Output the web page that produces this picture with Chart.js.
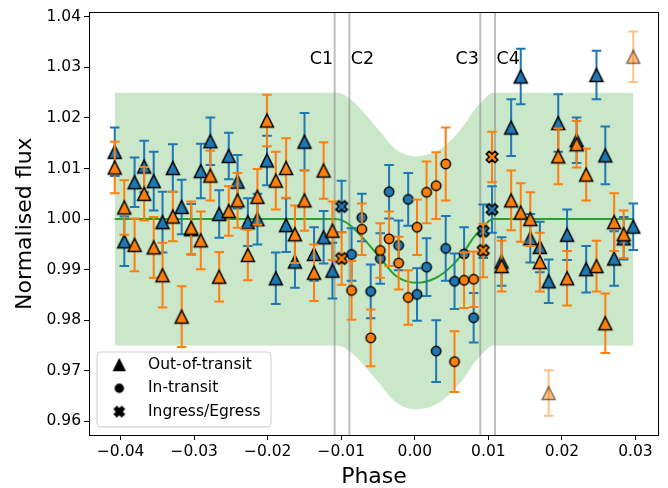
<!DOCTYPE html>
<html>
<head>
<meta charset="utf-8">
<script src="https://cdn.jsdelivr.net/npm/chart.js@4/dist/chart.umd.min.js"></script>
<style>
  html, body { margin: 0; padding: 0; background: #fff; }
</style>
</head>
<body>
<canvas id="chart" width="668" height="488"></canvas>
<script>
// Binned phases, shared by both transits
const phase = [
  -0.0408, -0.0395, -0.0381, -0.0368, -0.0355, -0.0343, -0.0329, -0.0317,
  -0.0304, -0.0291, -0.0278, -0.0266, -0.0253, -0.0241, -0.0227, -0.0214,
  -0.0201, -0.0189, -0.0175, -0.0163, -0.0150, -0.0137, -0.0124, -0.0112,
  -0.00995, -0.0086, -0.0072, -0.0060, -0.0047, -0.0035, -0.0022, -0.0009,
  0.0003, 0.0016, 0.0029, 0.0042, 0.0054, 0.0067, 0.0080, 0.0093,
  0.0105, 0.0118, 0.0131, 0.0144, 0.0157, 0.0170, 0.0182, 0.0195,
  0.0207, 0.0220, 0.0233, 0.0247, 0.0259, 0.0271, 0.0284, 0.0297
];

// Transit 1 (blue)
const blueFlux = [
  1.0133, 0.9956, 1.0073, 1.0104, 1.0075, 0.9994, 1.0101, 1.0024,
  0.9980, 1.0095, 1.0154, 1.0010, 1.0125, 1.0074, 0.9994, 1.0000,
  1.0116, 0.9883, 0.9988, 0.9916, 1.0153, 0.9931, 0.9964, 0.9898,
  1.0025, 0.9930, 1.0003, 0.9857, 0.9922, 1.0054, 0.9948, 1.0039,
  0.9851, 0.9905, 0.9739, 0.9942, 0.9877, 0.9931, 0.9805, 0.9976,
  1.0019, 0.9916, 1.0181, 1.0282, 0.9962, 0.9945, 0.9877, 1.0190,
  0.9969, 1.0156, 0.9901, 1.0285, 1.0126, 0.9922, 0.9962, 0.9985
];
const blueErr = [
  0.0048, 0.0049, 0.0049, 0.0051, 0.0058, 0.0060, 0.0047, 0.0054,
  0.0050, 0.0054, 0.0047, 0.0047, 0.0046, 0.0053, 0.0047, 0.0050,
  0.0049, 0.0051, 0.0053, 0.0052, 0.0057, 0.0053, 0.0052, 0.0055,
  0.0051, 0.0052, 0.0047, 0.0053, 0.0050, 0.0053, 0.0049, 0.0052,
  0.0052, 0.0057, 0.0061, 0.0064, 0.0055, 0.0053, 0.0049, 0.0053,
  0.0046, 0.0048, 0.0056, 0.0055, 0.0048, 0.0050, 0.0043, 0.0057,
  0.0050, 0.0045, 0.0046, 0.0048, 0.0057, 0.0054, 0.0042, 0.0046
];

// Transit 2 (orange)
const orangeFlux = [
  1.0102, 1.0023, 0.9949, 1.0050, 0.9944, 0.9889, 1.0005, 0.9807,
  0.9983, 0.9958, 1.0086, 0.9886, 1.0016, 1.0037, 0.9929, 1.0044,
  1.0195, 1.0076, 1.0101, 0.9970, 1.0037, 0.9894, 1.0096, 0.9977,
  0.9922, 0.9859, 0.9980, 0.9765, 0.9938, 0.9961, 0.9913, 0.9845,
  0.9984, 1.0053, 1.0066, 1.0109, 0.9718, 0.9879, 0.9881, 0.9938,
  1.0123, 0.9907, 1.0037, 1.0013, 1.0000, 0.9915, 0.9656, 1.0124,
  0.9883, 1.0148, 1.0088, 0.9907, 0.9794, 0.9994, 0.9970, 1.0321
];
const orangeErr = [
  0.0051, 0.0054, 0.0052, 0.0053, 0.0060, 0.0064, 0.0049, 0.0060,
  0.0052, 0.0057, 0.0049, 0.0049, 0.0049, 0.0054, 0.0050, 0.0055,
  0.0051, 0.0057, 0.0059, 0.0057, 0.0060, 0.0056, 0.0056, 0.0058,
  0.0052, 0.0058, 0.0051, 0.0056, 0.0054, 0.0054, 0.0052, 0.0054,
  0.0055, 0.0061, 0.0066, 0.0072, 0.0060, 0.0055, 0.0055, 0.0053,
  0.0050, 0.0050, 0.0059, 0.0058, 0.0053, 0.0058, 0.0045, 0.0055,
  0.0054, 0.0046, 0.0051, 0.0050, 0.0059, 0.0057, 0.0047, 0.0050
];
// orange bins rejected as outliers (drawn faded)
const orangeOutliers = [46, 55];

// Contact points
const contacts = [-0.0109, -0.0089, 0.0089, 0.0109];
const contactLabels = ["C1", "C2", "C3", "C4"];
const contactLabelFlux = 1.0316;

// Transit model and its uncertainty band
const modelPhase = [
  -0.0408, -0.0109, -0.0098, -0.0088, -0.0070, -0.0047, -0.0025, 0.0002,
  0.0029, 0.0052, 0.0069, 0.0079, 0.0095, 0.0106, 0.0297
];
const modelFlux = [
  1.0000, 1.0000, 0.9997, 0.9988, 0.9962, 0.9923, 0.9887, 0.9874,
  0.9884, 0.9910, 0.9940, 0.9962, 0.9988, 1.0000, 1.0000
];
const bandUpper = [
  1.0250, 1.0250, 1.0247, 1.0238, 1.0212, 1.0173, 1.0137, 1.0124,
  1.0134, 1.0160, 1.0190, 1.0212, 1.0238, 1.0250, 1.0250
];
const bandLower = [
  0.9750, 0.9750, 0.9747, 0.9738, 0.9712, 0.9673, 0.9637, 0.9624,
  0.9634, 0.9660, 0.9690, 0.9712, 0.9738, 0.9750, 0.9750
];

const xTicks = [-0.04, -0.03, -0.02, -0.01, 0.00, 0.01, 0.02, 0.03];
const yTicks = [0.96, 0.97, 0.98, 0.99, 1.00, 1.01, 1.02, 1.03, 1.04];
const xRange = [-0.0443, 0.0332];
const yRange = [0.9573, 1.0409];

const legendLabels = ["Out-of-transit", "In-transit", "Ingress/Egress"];

const BLUE = "#1f77b4";
const ORANGE = "#ff7f0e";
const FONT = "'DejaVu Sans', sans-serif";

Chart.defaults.font.family = FONT;
Chart.defaults.color = "#000";

// out = triangle, in = circle, edge = filled X
function pointKind(p) {
  if (p < contacts[0] || p > contacts[3]) return "out";
  if (p > contacts[1] && p < contacts[2]) return "in";
  return "edge";
}

// matplotlib-like markers drawn once on small canvases
function makeMarker(kind, fill, edge, scale) {
  const s = scale || 1;
  const c = document.createElement("canvas");
  c.width = 20;
  c.height = 20;
  const g = c.getContext("2d");
  g.translate(10, 10);
  g.scale(s, s);
  g.beginPath();
  if (kind === "out") {
    g.moveTo(0, -6.5);
    g.lineTo(6.5, 6.5);
    g.lineTo(-6.5, 6.5);
    g.closePath();
  } else if (kind === "in") {
    g.arc(0, 0, 4.7, 0, Math.PI * 2);
  } else {
    const u = 2.9;
    const pts = [[-1, -2], [0, -1], [1, -2], [2, -1], [1, 0], [2, 1],
                 [1, 2], [0, 1], [-1, 2], [-2, 1], [-1, 0], [-2, -1]];
    pts.forEach((p, i) => i ? g.lineTo(p[0] * u, p[1] * u) : g.moveTo(p[0] * u, p[1] * u));
    g.closePath();
  }
  g.fillStyle = fill;
  g.fill();
  g.lineJoin = "miter";
  g.lineWidth = 1.5 / s;
  g.strokeStyle = edge;
  g.stroke();
  return c;
}

function buildPoints(flux, err, kind, skip) {
  const pts = [];
  phase.forEach((p, i) => {
    if (pointKind(p) !== kind) return;
    if (skip && skip.includes(i)) return;
    pts.push({ x: p, y: flux[i], err: err[i] });
  });
  return pts;
}

const datasets = [];

// uncertainty band (filled between upper and lower)
datasets.push({
  type: "line",
  data: modelPhase.map((p, i) => ({ x: p, y: bandUpper[i] })),
  borderColor: "rgba(0,0,0,0)",
  borderWidth: 0,
  pointRadius: 0,
  fill: "+1",
  backgroundColor: "rgba(44,160,44,0.25)",
  cubicInterpolationMode: "monotone",
  order: 10
});
datasets.push({
  type: "line",
  data: modelPhase.map((p, i) => ({ x: p, y: bandLower[i] })),
  borderColor: "rgba(0,0,0,0)",
  borderWidth: 0,
  pointRadius: 0,
  fill: false,
  cubicInterpolationMode: "monotone",
  order: 10
});

// contact lines
contacts.forEach(c => {
  datasets.push({
    type: "line",
    data: [{ x: c, y: yRange[0] }, { x: c, y: yRange[1] }],
    borderColor: "rgba(128,128,128,0.5)",
    borderWidth: 2,
    pointRadius: 0,
    fill: false,
    order: 9
  });
});

// model curve
datasets.push({
  type: "line",
  data: modelPhase.map((p, i) => ({ x: p, y: modelFlux[i] })),
  borderColor: "#2ca02c",
  borderWidth: 2,
  pointRadius: 0,
  fill: false,
  cubicInterpolationMode: "monotone",
  order: 8
});

// data points: blue first, orange on top, faded outliers last
[
  [blueFlux, blueErr, BLUE, 6, null],
  [orangeFlux, orangeErr, ORANGE, 5, orangeOutliers]
].forEach(([flux, err, color, order, skip]) => {
  ["out", "in", "edge"].forEach(kind => {
    datasets.push({
      type: "scatter",
      data: buildPoints(flux, err, kind, skip),
      pointStyle: makeMarker(kind, color, "#000"),
      pointRadius: 6,
      errColor: color,
      order: order
    });
  });
});

datasets.push({
  type: "scatter",
  data: orangeOutliers.map(i => ({ x: phase[i], y: orangeFlux[i], err: orangeErr[i] })),
  pointStyle: makeMarker("out", "rgba(255,127,14,0.5)", "rgba(0,0,0,0.5)"),
  pointRadius: 6,
  errColor: "rgba(255,127,14,0.5)",
  order: 4
});

// error bars drawn just before each dataset's markers
const errorBarPlugin = {
  id: "errorBars",
  beforeDatasetDraw(chart, args) {
    const ds = chart.data.datasets[args.index];
    if (!ds.errColor) return;
    const { ctx, scales: { x, y } } = chart;
    const cap = 4.8;
    ctx.save();
    ctx.strokeStyle = ds.errColor;
    ctx.lineWidth = 2;
    ds.data.forEach(p => {
      const px = x.getPixelForValue(p.x);
      const top = y.getPixelForValue(p.y + p.err);
      const bot = y.getPixelForValue(p.y - p.err);
      ctx.beginPath();
      ctx.moveTo(px, top);
      ctx.lineTo(px, bot);
      ctx.moveTo(px - cap, top);
      ctx.lineTo(px + cap, top);
      ctx.moveTo(px - cap, bot);
      ctx.lineTo(px + cap, bot);
      ctx.stroke();
    });
    ctx.restore();
  }
};

// frame, contact labels and legend
const decorPlugin = {
  id: "decor",
  afterDraw(chart) {
    const { ctx, chartArea: a, scales: { x, y } } = chart;
    ctx.save();

    ctx.fillStyle = "#000";
    ctx.font = "17.5px " + FONT;
    ctx.textBaseline = "middle";
    contacts.forEach((c, i) => {
      const px = x.getPixelForValue(c);
      const left = i % 2 === 0;
      ctx.textAlign = left ? "right" : "left";
      ctx.fillText(contactLabels[i], px + (left ? -1.5 : 1.5), y.getPixelForValue(contactLabelFlux));
    });

    ctx.strokeStyle = "#000";
    ctx.lineWidth = 1;
    ctx.strokeRect(Math.round(a.left) + 0.5, Math.round(a.top) + 0.5,
                   Math.round(a.right - a.left) - 1, Math.round(a.bottom - a.top));

    // legend box, bottom left
    const bx = 97, by = 352, bw = 174, bh = 75, r = 4;
    ctx.beginPath();
    ctx.moveTo(bx + r, by);
    ctx.arcTo(bx + bw, by, bx + bw, by + bh, r);
    ctx.arcTo(bx + bw, by + bh, bx, by + bh, r);
    ctx.arcTo(bx, by + bh, bx, by, r);
    ctx.arcTo(bx, by, bx + bw, by, r);
    ctx.closePath();
    ctx.fillStyle = "rgba(255,255,255,0.8)";
    ctx.fill();
    ctx.strokeStyle = "#cccccc";
    ctx.stroke();

    ["out", "in", "edge"].forEach((kind, i) => {
      const rowY = 365 + i * 23.3;
      const m = makeMarker(kind, "#000", "#000", 0.85);
      ctx.drawImage(m, 119.3 - m.width / 2, rowY - m.height / 2);
      ctx.fillStyle = "#000";
      ctx.font = "15.5px " + FONT;
      ctx.textAlign = "left";
      ctx.textBaseline = "middle";
      ctx.fillText(legendLabels[i], 148, rowY);
    });
    ctx.restore();
  }
};

function fmtTick(v) {
  return (v < -1e-9 ? "\u2212" : "") + Math.abs(v).toFixed(2);
}

new Chart(document.getElementById("chart"), {
  type: "scatter",
  data: { datasets },
  options: {
    responsive: false,
    animation: false,
    layout: { padding: { top: 10, right: 9, left: 0, bottom: 0 } },
    plugins: {
      legend: { display: false },
      tooltip: { enabled: false }
    },
    scales: {
      x: {
        type: "linear",
        min: xRange[0],
        max: xRange[1],
        afterFit: s => { s.height = 53; },
        afterBuildTicks: s => { s.ticks = xTicks.map(v => ({ value: v })); },
        ticks: {
          callback: v => fmtTick(v),
          font: { size: 15.5 },
          color: "#000",
          padding: 3,
          maxRotation: 0,
          autoSkip: false
        },
        grid: { drawOnChartArea: false, tickLength: 5, tickColor: "#000", tickWidth: 1 },
        border: { display: false },
        title: { display: true, text: "Phase", font: { size: 22 }, color: "#000", padding: { top: 0, bottom: -2 } }
      },
      y: {
        type: "linear",
        min: yRange[0],
        max: yRange[1],
        afterFit: s => { s.width = 89; },
        afterBuildTicks: s => { s.ticks = yTicks.map(v => ({ value: v })); },
        ticks: {
          callback: v => v.toFixed(2),
          font: { size: 15.5 },
          color: "#000",
          padding: 3,
          autoSkip: false
        },
        grid: { drawOnChartArea: false, tickLength: 5, tickColor: "#000", tickWidth: 1 },
        border: { display: false },
        title: { display: true, text: "Normalised flux", font: { size: 22 }, color: "#000", padding: { top: 12, bottom: 0 } }
      }
    }
  },
  plugins: [errorBarPlugin, decorPlugin]
});
</script>
</body>
</html>
